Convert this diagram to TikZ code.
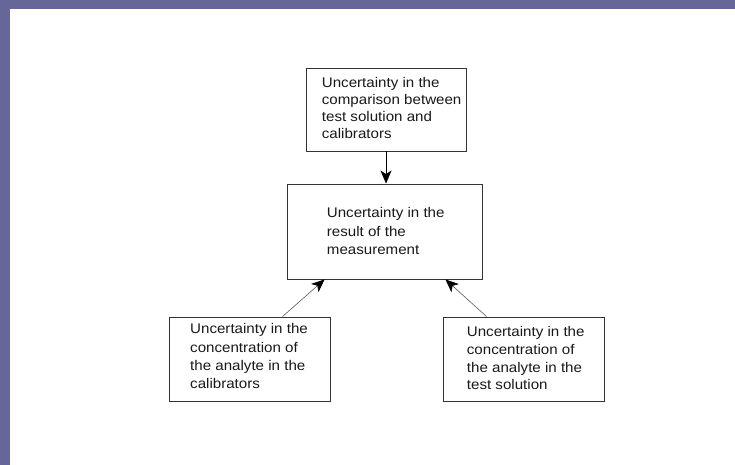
\documentclass[tikz,border=0pt]{standalone}
\usepackage{fontspec}
\setmainfont{Liberation Sans}[FakeStretch=1.08]
\usetikzlibrary{arrows.meta,calc}
\definecolor{framecol}{HTML}{666699}
\begin{document}
\begin{tikzpicture}[x=1pt,y=-1pt,
  box/.style={draw=black!80, line width=0.9pt, inner sep=0pt},
  lbl/.style={anchor=north west, inner sep=0pt, align=left, font=\fontsize{14}{18.5}\selectfont, text=black!90},
  arr/.style={-{Stealth[length=13pt,width=11pt,inset=3.5pt,color=black]}}]
\useasboundingbox (0,0) rectangle (735,465);
\fill[framecol] (0,0) rectangle (735,9);
\fill[framecol] (0,0) rectangle (10,465);
% boxes
\node[box, minimum width=160pt, minimum height=83pt] (top) at (386,109.5) {};
\node[box, minimum width=195pt, minimum height=95pt] (mid) at (384.5,231.5) {};
\node[box, minimum width=160.5pt, minimum height=84pt] (bl) at (249.75,359) {};
\node[box, minimum width=161pt, minimum height=84pt] (br) at (523.5,359) {};
% texts
\node[lbl, font=\fontsize{14}{17.2}\selectfont] (ttop) at (321.7,76.8) {Uncertainty in the\\comparison between\\test solution and\\calibrators};
\node[lbl] (tmid) at (326.7,207.5) {Uncertainty in the\\result of the\\measurement};
\node[lbl, font=\fontsize{14}{18.3}\selectfont] (tbl) at (190,323.5) {Uncertainty in the\\concentration of\\the analyte in the\\calibrators};
\node[lbl, font=\fontsize{14}{17.6}\selectfont] (tbr) at (466.7,326.5) {Uncertainty in the\\concentration of\\the analyte in the\\test solution};
% connector end points
\coordinate (blout) at ($(bl.north west)+(113.5,0)$);
\coordinate (midinl) at ($(mid.south west)+(38,0)$);
\coordinate (brout) at ($(br.north west)+(44,0)$);
\coordinate (midinr) at ($(mid.south east)+(-37,0)$);
% connectors
\draw[arr, line width=0.8pt, black] (top.south) -- (top.south |- mid.north);
\draw[arr, line width=0.6pt, black!65] (blout) -- (midinl);
\draw[arr, line width=0.6pt, black!65] (brout) -- (midinr);
\end{tikzpicture}
\end{document}
